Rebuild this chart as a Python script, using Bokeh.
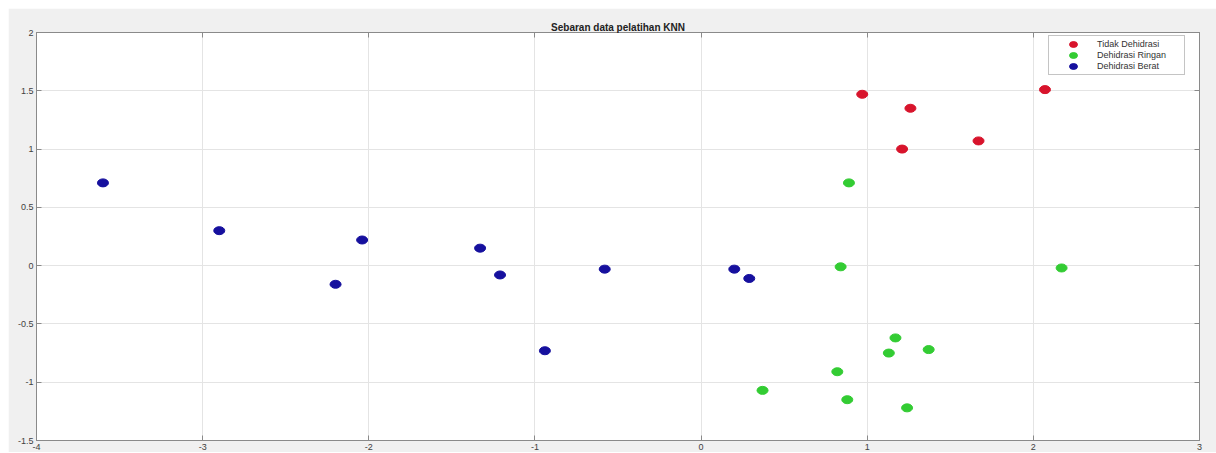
from bokeh.plotting import figure
from bokeh.models import Range1d, FixedTicker, LinearAxis, Legend, LegendItem, ColumnDataSource
from bokeh.embed import file_html
from bokeh.resources import INLINE

# ---- data ----
title_text = "Sebaran data pelatihan KNN"
class_names = ["Tidak Dehidrasi", "Dehidrasi Ringan", "Dehidrasi Berat"]

red_x = [0.97, 1.26, 1.21, 1.67, 2.07]
red_y = [1.47, 1.35, 1.00, 1.07, 1.51]

green_x = [0.89, 0.84, 2.17, 1.17, 1.13, 1.37, 0.82, 0.37, 0.88, 1.24]
green_y = [0.71, -0.01, -0.02, -0.62, -0.75, -0.72, -0.91, -1.07, -1.15, -1.22]

blue_x = [-3.60, -2.90, -2.04, -2.20, -1.33, -1.21, -0.94, -0.58, 0.20, 0.29]
blue_y = [0.71, 0.30, 0.22, -0.16, 0.15, -0.08, -0.73, -0.03, -0.03, -0.11]

x_ticks = [-4, -3, -2, -1, 0, 1, 2, 3]
x_tick_labels = ["-4", "-3", "-2", "-1", "0", "1", "2", "3"]
y_ticks = [-1.5, -1, -0.5, 0, 0.5, 1, 1.5, 2]
y_tick_labels = ["-1.5", "-1", "-0.5", "0", "0.5", "1", "1.5", "2"]

colors = ["#d8142c", "#33cc33", "#16109e"]

# ---- layout ----
FRAME_W = 1163
FRAME_H = 408
FONT = "Liberation Sans"

p = figure(
    frame_width=FRAME_W, frame_height=FRAME_H,
    x_range=Range1d(-4, 3), y_range=Range1d(-1.5, 2),
    output_backend="svg", toolbar_location=None,
    min_border_left=28, min_border_right=17, min_border_top=24, min_border_bottom=0,
    background_fill_color="white", border_fill_color="#f0f0f0",
    x_axis_location=None, y_axis_location=None,
)
p.margin = (8, 0, 0, 8)
p.outline_line_color = "#8a8a8a"
p.outline_line_width = 1

p.title.text = title_text
p.title.align = "center"
p.title.text_font = FONT
p.title.text_font_size = "10px"
p.title.text_font_style = "bold"
p.title.text_color = "#222222"
p.title.standoff = 0
p.title.offset = 0

def style_axis(ax, ticks, labels, show_labels=True):
    ax.ticker = FixedTicker(ticks=ticks)
    ax.axis_line_color = "#8a8a8a"
    ax.major_tick_line_color = "#8a8a8a"
    ax.major_tick_in = 5
    ax.major_tick_out = 0
    ax.minor_tick_line_color = None
    ax.major_label_text_font = FONT
    ax.major_label_text_color = "#404040"
    ax.major_label_text_font_size = "9px"
    if show_labels:
        ax.major_label_overrides = {t: l for t, l in zip(ticks, labels)}
        ax.major_label_standoff = 3
    else:
        ax.major_label_overrides = {t: "" for t in ticks}
        ax.major_label_standoff = 0

xb = LinearAxis()
style_axis(xb, x_ticks, x_tick_labels)
p.add_layout(xb, "below")
yl = LinearAxis()
style_axis(yl, y_ticks, y_tick_labels)
p.add_layout(yl, "left")
xa = LinearAxis()
style_axis(xa, x_ticks, x_tick_labels, show_labels=False)
p.add_layout(xa, "above")
yr = LinearAxis()
style_axis(yr, y_ticks, y_tick_labels, show_labels=False)
p.add_layout(yr, "right")

p.xgrid.ticker = FixedTicker(ticks=x_ticks)
p.ygrid.ticker = FixedTicker(ticks=y_ticks)
for g in (p.xgrid, p.ygrid):
    g.grid_line_color = "#e4e4e4"
    g.grid_line_width = 1

renderers = []
for xs, ys, c in [(red_x, red_y, colors[0]), (green_x, green_y, colors[1]), (blue_x, blue_y, colors[2])]:
    src = ColumnDataSource(dict(x=xs, y=ys))
    r = p.ellipse(x="x", y="y", width=11, height=8, width_units="screen", height_units="screen",
                  source=src, fill_color=c, line_color=c)
    renderers.append(r)

legend = Legend(
    items=[LegendItem(label=n, renderers=[r]) for n, r in zip(class_names, renderers)],
    location=(1012, FRAME_H - 6 - 37),
    orientation="vertical",
    label_text_font=FONT, label_text_font_size="9px", label_text_color="#333333",
    label_height=10, glyph_height=10, glyph_width=42, label_standoff=3,
    spacing=1, padding=3, margin=0,
    border_line_color="#8a8a8a", border_line_width=1,
    background_fill_color="white", background_fill_alpha=1.0,
    label_width=84,
)
p.add_layout(legend, "center")

open("out.html", "w").write(file_html(p, INLINE))
